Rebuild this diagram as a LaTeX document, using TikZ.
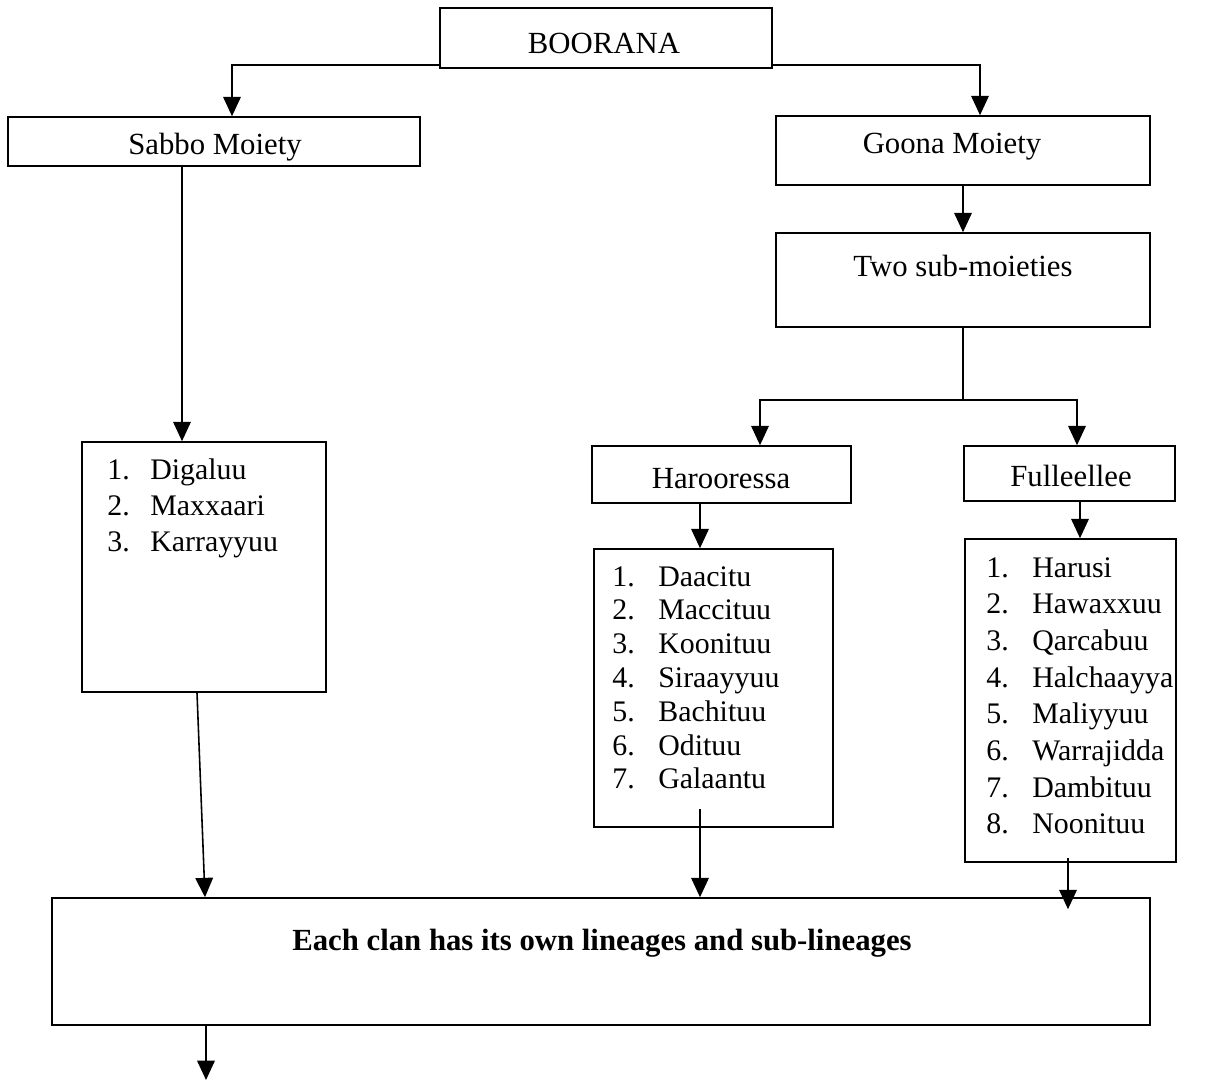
\documentclass[tikz,border=0pt]{standalone}
\usepackage{fontspec}
\setmainfont{Liberation Serif}
\usetikzlibrary{arrows.meta}
\begin{document}
\begin{tikzpicture}[x=0.02cm,y=-0.02cm]
    \def\u{0.02cm}
    \tikzstyle{box}=[draw, line width=0.9pt, inner sep=0pt]
    \tikzstyle{txt}=[inner sep=0pt, font=\fontsize{17.5}{21}\selectfont]
    \tikzstyle{item}=[anchor=mid west, inner sep=0pt, font=\fontsize{17}{21}\selectfont]
    \useasboundingbox (0,0) rectangle (1214,1084);

    \node[box, minimum width=332*\u, minimum height=60*\u] (boorana) at (606,38) {};
    \node[txt] (boorana-t) at (604,43) {BOORANA};
    \node[box, minimum width=412*\u, minimum height=49*\u] (sabbo) at (214,141.5) {};
    \node[txt] (sabbo-t) at (215,147) {Sabbo Moiety};
    \node[box, minimum width=374*\u, minimum height=69*\u] (goona) at (963,150.5) {};
    \node[txt] (goona-t) at (952,147) {Goona Moiety};
    \node[box, minimum width=374*\u, minimum height=94*\u] (twosub) at (963,280) {};
    \node[txt] (twosub-t) at (963,266) {Two sub-moieties};
    \node[box, minimum width=259*\u, minimum height=57*\u] (haro) at (721.5,474.5) {};
    \node[txt] (haro-t) at (721,479) {Harooressa};
    \node[box, minimum width=211*\u, minimum height=55*\u] (fulle) at (1069.5,473.5) {};
    \node[txt] (fulle-t) at (1071,476) {Fulleellee};

    % clan lists
    \node[box, minimum width=244*\u, minimum height=250*\u] (sabbolist) at (204,567) {};
    \node[box, minimum width=239*\u, minimum height=278*\u] (harolist) at (713.5,688) {};
    \node[box, minimum width=211*\u, minimum height=323*\u] (fullelist) at (1070.5,700.5) {};
    \foreach \name [count=\i] in {Digaluu, Maxxaari, Karrayyuu} {
        \node[item] (sabbo-n\i) at (107,{475+36*(\i-1)}) {\i.};
        \node[item] (sabbo-\i) at (150,{475+36*(\i-1)}) {\name};
    }
    \foreach \name [count=\i] in {Daacitu, Maccituu, Koonituu, Siraayyuu, Bachituu, Odituu, Galaantu} {
        \node[item] (haro-n\i) at (612,{582+33.8*(\i-1)}) {\i.};
        \node[item] (haro-\i) at (658,{582+33.8*(\i-1)}) {\name};
    }
    \foreach \name [count=\i] in {Harusi, Hawaxxuu, Qarcabuu, Halchaayya, Maliyyuu, Warrajidda, Dambituu, Noonituu} {
        \node[item] (fulle-n\i) at (986,{573+36.7*(\i-1)}) {\i.};
        \node[item] (fulle-\i) at (1032,{573+36.7*(\i-1)}) {\name};
    }

    \node[box, minimum width=1098*\u, minimum height=127*\u] (clan) at (601,961.5) {};
    \node[txt, font=\fontsize{17.5}{21}\selectfont\bfseries] (clan-t) at (602,943) {Each clan has its own lineages and sub-lineages};
    \coordinate (split) at (963,400);
    \coordinate (end) at (206,1080);

    \tikzstyle{line} = [draw=black, line width=0.9pt]
    \tikzstyle{valid} = [-{Triangle[width=10pt,length=11pt]}, draw=black, line width=0.9pt]

          \draw [valid] ([yshift=4*\u]boorana.south west) -| ([xshift=18*\u]sabbo.north);
          \draw [valid] ([yshift=4*\u]boorana.south east) -| ([xshift=17*\u]goona.north);
          \draw [valid] (goona) -- (twosub);

          \draw [line] (twosub.south) -- (split);
          \draw [valid] (split) -| ([xshift=38.5*\u]haro.north);
          \draw [valid] (split) -| ([xshift=7.5*\u]fulle.north);

          \draw [valid] ([xshift=-32*\u]sabbo.south) -- ([xshift=-32*\u]sabbo.south |- sabbolist.north);
          \draw [valid] ([xshift=-21.5*\u]haro.south) -- ([xshift=-21.5*\u]haro.south |- harolist.north);
          \draw [valid] ([xshift=10.5*\u]fulle.south) -- ([xshift=10.5*\u]fulle.south |- fullelist.north);

          \draw [valid] ([xshift=-7*\u]sabbolist.south) -- ([xshift=-396*\u]clan.north);
          \draw [valid] ([xshift=-13.5*\u,yshift=19*\u]harolist.south) -- ([xshift=99*\u]clan.north);
          \draw [valid] ([xshift=-2.5*\u,yshift=5*\u]fullelist.south) -- ([xshift=467*\u,yshift=-12*\u]clan.north);
          \draw [valid] ([xshift=-395*\u]clan.south) -- (end);
\end{tikzpicture}
\end{document}
